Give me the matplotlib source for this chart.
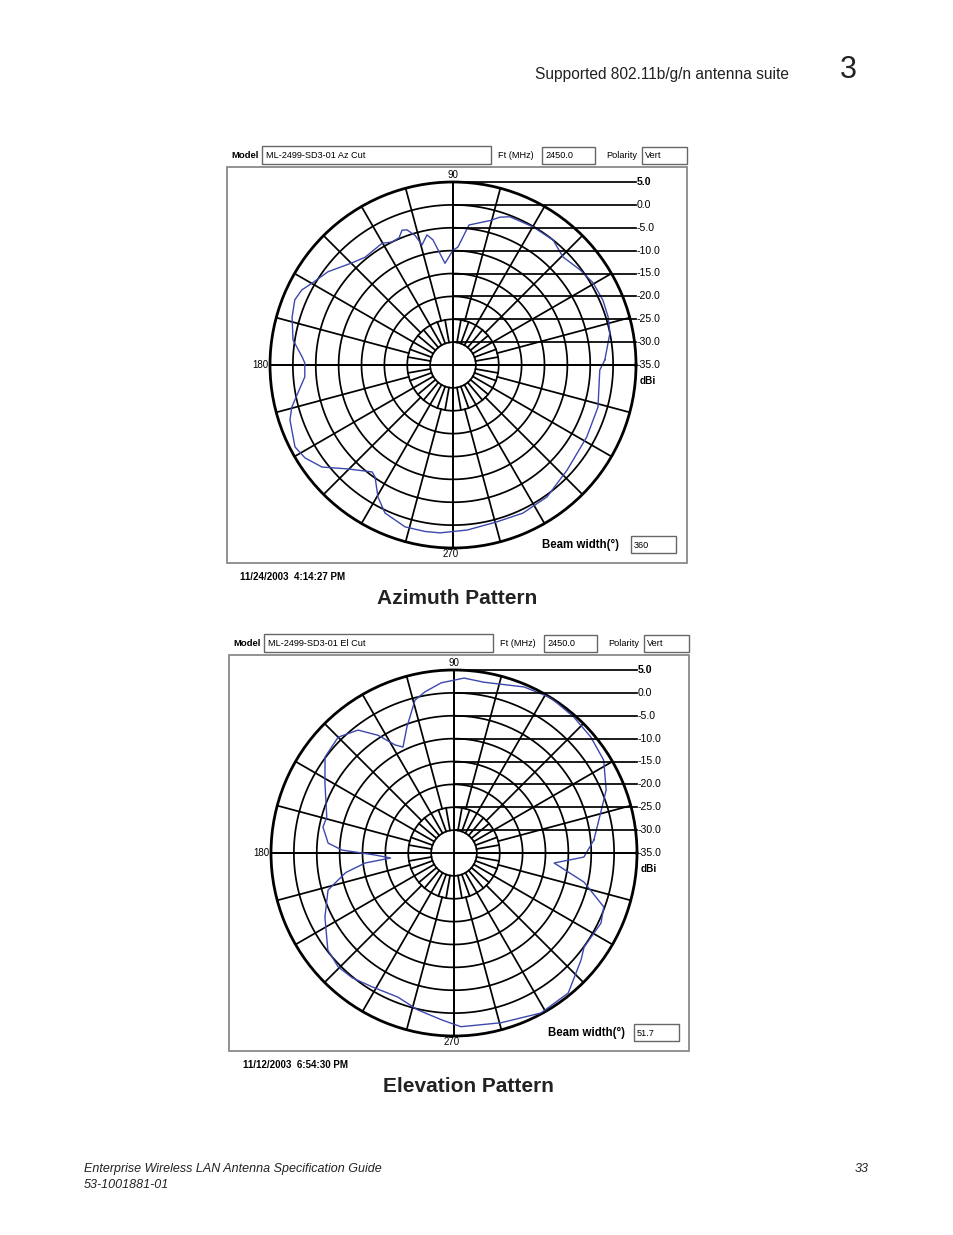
import numpy as np
import matplotlib
matplotlib.use("Agg")
import matplotlib.pyplot as plt
from matplotlib.patches import Rectangle

plt.rcParams['font.family'] = ['Liberation Sans', 'DejaVu Sans']

# ---------------- data ----------------
ring_levels = [5.0, 0.0, -5.0, -10.0, -15.0, -20.0, -25.0, -30.0, -35.0]
ring_labels = ["5.0", "0.0", "-5.0", "-10.0", "-15.0", "-20.0", "-25.0", "-30.0", "-35.0"]
axis_labels = ["90", "180", "270"]

az_angle = [1.9, 11.5, 17.2, 23.4, 30.4, 36.8, 44.5, 51.3, 59.9, 69.0, 72.4, 75.6,
            83.5, 87.6, 90.0, 94.5, 99.1, 101.3, 104.5, 106.3, 108.8, 110.7, 113.0,
            116.4, 120.2, 129.2, 134.7, 143.3, 149.8, 153.6, 157.6, 163.4, 171.1,
            177.0, 179.2, 184.6, 194.6, 198.6, 207.4, 212.1, 217.9, 224.7, 232.9,
            235.1, 240.4, 245.3, 253.5, 260.5, 265.6, 275.0, 285.7, 295.3, 305.5,
            317.4, 331.7, 343.8, 358.0]
az_gain = [-1.8, 0.0, 0.5, 0.7, 0.5, -0.3, -1.3, 0.0, -0.1, -0.3, -1.1, -2.4,
           -4.2, -9.2, -9.9, -12.7, -7.3, -6.0, -7.9, -5.5, -3.8, -3.5, -4.8,
           -5.0, -4.2, -4.6, -3.6, -0.9, 0.6, 1.9, 2.4, 1.7, 0.4,
           -2.0, -2.6, -2.5, 1.4, 2.6, 3.9, 3.2, 1.3, -2.7, -5.7,
           -5.2, -1.8, 0.6, 1.9, 1.9, 1.8, 1.2, 0.6, 0.8, 0.4,
           -1.1, -1.8, -2.0, -2.9]

el_angle = [5.3, 15.2, 22.5, 31.8, 40.3, 48.6, 58.0, 67.1, 80.0, 86.7, 94.3, 100.2,
            104.3, 110.5, 115.7, 118.6, 122.8, 128.0, 135.0, 143.3, 151.5, 164.2,
            168.8, 175.5, 178.5, 181.5, 184.5, 186.4, 190.2, 193.1, 196.4, 206.4,
            217.6, 224.5, 230.8, 238.5, 248.7, 257.0, 265.9, 272.3, 285.5, 298.5,
            309.2, 319.9, 324.1, 334.5, 340.2, 347.4, 354.3, 358.2]
el_gain = [-4.3, -1.8, 1.0, 3.5, 4.2, 4.6, 5.0, 4.4, 2.9, 3.3, 2.3, 0.8,
           -0.5, -5.6, -9.3, -8.1, -4.4, -0.9, 0.8, 0.15, -2.9, -6.1,
           -5.8, -7.4, -10.5, -17.8, -21.1, -15.5, -11.0, -9.0, -6.3, -3.5,
           -0.2, 0.5, 0.2, -0.7, -1.2, 0.2, 1.6, 3.0, 3.5, 4.8,
           4.5, 1.3, 0.1, 0.6, -0.2, -5.9, -13.0, -6.6]

az_info = {"model": "ML-2499-SD3-01 Az Cut", "freq": "2450.0", "pol": "Vert",
           "beam": "360", "date": "11/24/2003  4:14:27 PM", "title": "Azimuth Pattern"}
el_info = {"model": "ML-2499-SD3-01 El Cut", "freq": "2450.0", "pol": "Vert",
           "beam": "51.7", "date": "11/12/2003  6:54:30 PM", "title": "Elevation Pattern"}

# ---------------- figure ----------------
W, H = 954, 1235
fig = plt.figure(figsize=(W / 100, H / 100), dpi=100)


def fx(x):
    return x / W


def fy(y):
    return 1 - y / H


def rect(x0, y0, x1, y1, ec="#555555", lw=1.0, fc="none"):
    fig.add_artist(Rectangle((fx(x0), fy(y1)), (x1 - x0) / W, (y1 - y0) / H,
                             transform=fig.transFigure, fill=(fc != "none"),
                             fc=fc, ec=ec, lw=lw))


def txt(x, y, s, **kw):
    kw.setdefault("va", "center")
    fig.text(fx(x), fy(y), s, **kw)


BLUE = "#3c48ac"
RMIN, RMAX = -35.0, 5.0
GRID_LW = 1.25


def panel(cx, cy, R, dx, info, ang, gain):
    # frames
    rect(227 + dx, cy - 198, 687 + dx, cy + 198, ec="#8a8a8a", lw=1.3)
    hy = cy - 210
    txt(231 + dx, hy, "Model", fontsize=6.8, fontweight="bold")
    rect(262 + dx, hy - 9, 491 + dx, hy + 9, ec="#666666", lw=1.0)
    txt(266 + dx, hy, info["model"], fontsize=6.6)
    txt(498 + dx, hy, "Ft (MHz)", fontsize=6.6)
    rect(542 + dx, hy - 8, 595 + dx, hy + 9, ec="#666666", lw=1.0)
    txt(545 + dx, hy, info["freq"], fontsize=6.6)
    txt(606 + dx, hy, "Polarity", fontsize=6.6)
    rect(642 + dx, hy - 8, 687 + dx, hy + 9, ec="#666666", lw=1.0)
    txt(645 + dx, hy, info["pol"], fontsize=6.6)

    # polar axes
    ax = fig.add_axes([fx(cx - R), fy(cy + R), 2 * R / W, 2 * R / H],
                      projection="polar")
    ax.set_theta_zero_location("E")
    ax.set_theta_direction(1)
    ax.set_rlim(RMIN, RMAX)
    ax.grid(False)
    ax.set_xticks([])
    ax.set_yticks([])
    ax.spines["polar"].set_linewidth(2.0)
    ax.spines["polar"].set_color("black")
    ax.patch.set_alpha(0)
    th_full = np.linspace(0, 2 * np.pi, 721)
    for lvl in ring_levels[1:-1]:
        ax.plot(th_full, np.full_like(th_full, lvl), color="black", lw=GRID_LW)
    for a in range(0, 360, 15):
        t = np.deg2rad(a)
        ax.plot([t, t], [ring_levels[-3], RMAX], color="black", lw=GRID_LW)
    for a in range(0, 360, 10):
        t = np.deg2rad(a)
        ax.plot([t, t], [ring_levels[-2], ring_levels[-3]], color="black", lw=GRID_LW)
    for a in (0, 90, 180, 270):
        t = np.deg2rad(a)
        ax.plot([t, t], [RMIN, RMAX], color="black", lw=1.35)
    th = np.deg2rad(np.r_[ang, ang[0]])
    ax.plot(th, np.r_[gain, gain[0]], color=BLUE, lw=1.0, zorder=5)

    # leader lines (cartesian overlay in dB-offset units)
    ov = fig.add_axes(ax.get_position(), facecolor="none")
    ov.set_xlim(-(RMAX - RMIN), RMAX - RMIN)
    ov.set_ylim(-(RMAX - RMIN), RMAX - RMIN)
    ov.axis("off")
    for i, (lvl, lab) in enumerate(zip(ring_levels, ring_labels)):
        yv = lvl - RMIN
        x0 = 3.0 if i == 0 else 0.0
        ov.plot([x0, RMAX - RMIN], [yv, yv], color="black", lw=GRID_LW, clip_on=False)
        ov.text(RMAX - RMIN + 0.15, yv, lab, fontsize=7.6,
                fontweight="bold" if i == 0 else "normal",
                ha="left", va="center", clip_on=False)
    ov.text(RMAX - RMIN + 0.9, -3.5, "dBi", fontsize=7.2, fontweight="bold",
            ha="left", va="center")

    txt(cx, cy - R - 7, axis_labels[0], fontsize=7.0, ha="center")
    txt(cx - R - 2, cy, axis_labels[1], fontsize=7.0, ha="right")
    txt(cx - 2, cy + R + 6, axis_labels[2], fontsize=7.0, ha="center")

    # beam width
    off = 0 if dx == 0 else 4
    txt(542 + dx + off, cy + 180, "Beam width(°)", fontsize=8.3, fontweight="bold")
    off2 = 0 if dx == 0 else 1
    rect(631 + dx + off2, cy + 171, 676 + dx + off2, cy + 188, ec="#666666", lw=1.0)
    txt(634 + dx + off2, cy + 180, info["beam"], fontsize=6.6)

    txt(240 + dx + off2, cy + 212, info["date"], fontsize=7.0, fontweight="bold")
    txt(cx + 4 + (0 if dx == 0 else 10), cy + 234, info["title"], fontsize=15,
        fontweight="bold", ha="center", color="#222222")


panel(453, 365, 183, 0, az_info, az_angle, az_gain)
panel(454, 853, 183, 2, el_info, el_angle, el_gain)

# page header / footer
txt(535, 75, "Supported 802.11b/g/n antenna suite", fontsize=11.2, color="#222222")
txt(848, 70, "3", fontsize=22, ha="center", color="#222222")
txt(84, 1169, "Enterprise Wireless LAN Antenna Specification Guide", fontsize=9,
    style="italic", color="#222222")
txt(84, 1185, "53-1001881-01", fontsize=9, style="italic", color="#222222")
txt(869, 1169, "33", fontsize=9, style="italic", ha="right", color="#222222")

fig.savefig("out.png", dpi=100)
